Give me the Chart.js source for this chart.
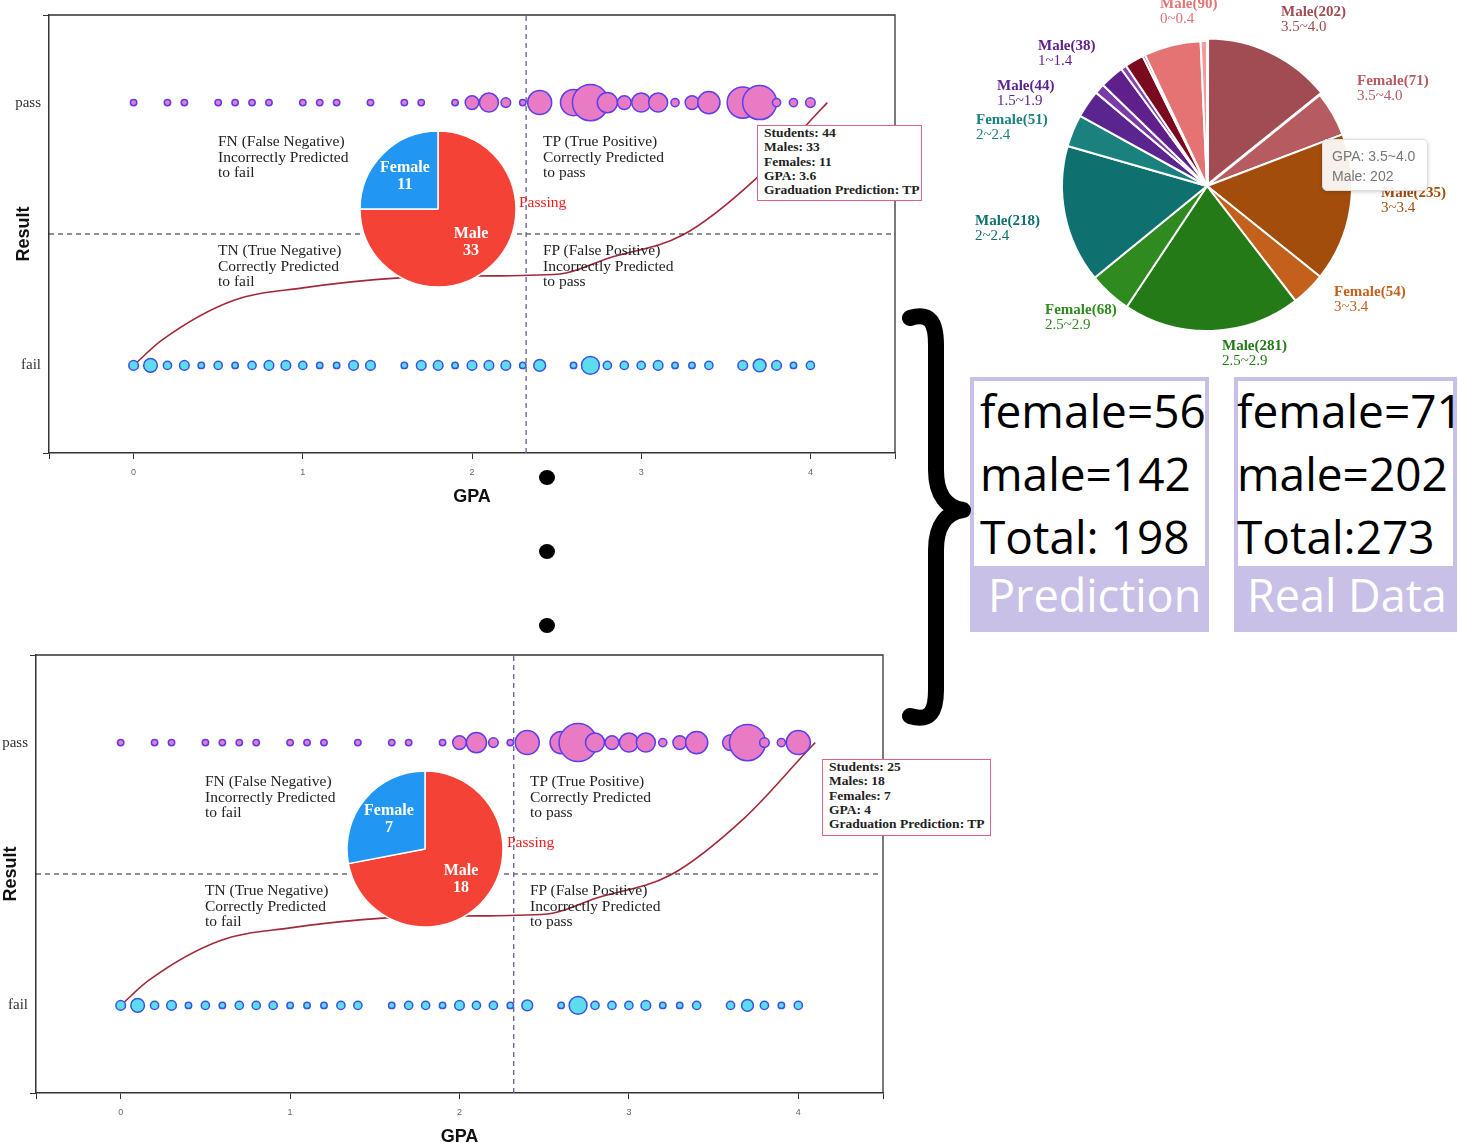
<!DOCTYPE html>
<html>
<head>
<meta charset="utf-8">
<script src="https://cdn.jsdelivr.net/npm/chart.js@4.4.1/dist/chart.umd.min.js"></script>
<style>
html, body { margin: 0; padding: 0; background: #fff; }
#page { position: relative; width: 1458px; height: 1143px; overflow: hidden; }
canvas { position: absolute; }
.q { position: absolute; z-index: 2; font-family: "Liberation Serif", "Times New Roman", serif; font-size: 15.5px; line-height: 15.6px; color: #222; white-space: nowrap; }
.passing { color: #f01c1c; }
.tip { position: absolute; z-index: 5; box-sizing: border-box; border: 1.5px solid #e0608a; background: #fff; font-family: "Liberation Serif", serif; font-weight: bold; font-size: 13.5px; line-height: 14.3px; color: #222; padding: 0 0 0 6px; white-space: nowrap; }
.dot { position: absolute; width: 16px; height: 15px; border-radius: 50%; background: #000; }
.plab { position: absolute; z-index: 2; font-family: "Liberation Serif", serif; font-size: 15px; line-height: 15px; white-space: nowrap; }
.plab b { display: block; }
.box { position: absolute; background: #c8c0e6; }
.box .in { position: absolute; left: 4px; top: 4px; background: #fff; }
.box .t { position: absolute; top: 2px; font-family: "Open Sans", sans-serif; font-size: 46px; line-height: 63px; color: #000; white-space: nowrap; }
.box .cap { position: absolute; top: 186px; font-family: "Open Sans", sans-serif; font-size: 45px; line-height: 64px; color: #fff; white-space: nowrap; }
.ptip { position: absolute; z-index: 5; left: 1322px; top: 139px; width: 106px; height: 52px; box-sizing: border-box; background: rgba(255,255,255,0.92); border: 1px solid #ddd; border-radius: 5px; box-shadow: 0 1px 4px rgba(0,0,0,0.18); font-family: "Liberation Sans", Arial, sans-serif; font-size: 14px; line-height: 20px; color: #777; padding: 6px 0 0 9px; }
</style>
</head>
<body>
<div id="page">
  <canvas id="topChart" width="903" height="512" style="left:0;top:0;z-index:1"></canvas>
  <canvas id="bottomChart" width="891" height="512" style="left:0;top:640px;z-index:1"></canvas>
  <canvas id="topPie" width="170" height="170" style="left:353px;top:124px;z-index:3"></canvas>
  <canvas id="bottomPie" width="170" height="170" style="left:340px;top:764px;z-index:3"></canvas>
  <canvas id="bigPie" width="320" height="320" style="left:1047px;top:26px;z-index:1"></canvas>

  <div class="q" style="left:218px;top:133px">FN (False Negative)<br>Incorrectly Predicted<br>to fail</div>
  <div class="q" style="left:543px;top:133px">TP (True Positive)<br>Correctly Predicted<br>to pass</div>
  <div class="q" style="left:218px;top:242px">TN (True Negative)<br>Correctly Predicted<br>to fail</div>
  <div class="q" style="left:543px;top:242px">FP (False Positive)<br>Incorrectly Predicted<br>to pass</div>
  <div class="q passing" style="left:519px;top:194px">Passing</div>
  <div class="tip" style="left:757px;top:125px;width:165px;height:76px">Students: 44<br>Males: 33<br>Females: 11<br>GPA: 3.6<br>Graduation Prediction: TP</div>

  <div class="q" style="left:205px;top:773px">FN (False Negative)<br>Incorrectly Predicted<br>to fail</div>
  <div class="q" style="left:530px;top:773px">TP (True Positive)<br>Correctly Predicted<br>to pass</div>
  <div class="q" style="left:205px;top:882px">TN (True Negative)<br>Correctly Predicted<br>to fail</div>
  <div class="q" style="left:530px;top:882px">FP (False Positive)<br>Incorrectly Predicted<br>to pass</div>
  <div class="q passing" style="left:507px;top:834px">Passing</div>
  <div class="tip" style="left:822px;top:759px;width:169px;height:77px">Students: 25<br>Males: 18<br>Females: 7<br>GPA: 4<br>Graduation Prediction: TP</div>

  <div class="dot" style="left:539px;top:470px"></div>
  <div class="dot" style="left:539px;top:544px"></div>
  <div class="dot" style="left:539px;top:618px"></div>

  <svg width="1458" height="1143" style="position:absolute;left:0;top:0;z-index:2">
    <path d="M 910 318 C 930 312 936 322 936 345 L 936 470 C 936 496 948 508 963 510 C 948 512 936 524 936 550 L 936 690 C 936 712 930 722 910 716" fill="none" stroke="#000" stroke-width="16" stroke-linecap="round" stroke-linejoin="round"/>
  </svg>

  <div class="box" style="left:970px;top:377px;width:239px;height:255px">
    <div class="in" style="width:231px;height:185px"></div>
    <div class="t" style="left:10px">female=56<br>male=142<br>Total: 198</div>
    <div class="cap" style="left:18px">Prediction</div>
  </div>
  <div class="box" style="left:1234px;top:377px;width:223px;height:255px">
    <div class="in" style="width:215px;height:185px"></div>
    <div class="t" style="left:3px">female=71<br>male=202<br>Total:273</div>
    <div class="cap" style="left:13px">Real Data</div>
  </div>

  <div class="ptip">GPA: 3.5~4.0<br>Male: 202</div>
  <div id="pieLabels"></div>
</div>

<script>
// GPA values where a bubble sits on each row
const passGpa = [0, 0.2, 0.3, 0.5, 0.6, 0.7, 0.8, 1.0, 1.1, 1.2, 1.4, 1.6, 1.7, 1.9, 2.0, 2.1, 2.2, 2.3, 2.4,
                 2.6, 2.7, 2.8, 2.9, 3.0, 3.1, 3.2, 3.3, 3.4, 3.6, 3.7, 3.8, 3.9, 4.0]
const failGpa = [0, 0.1, 0.2, 0.3, 0.4, 0.5, 0.6, 0.7, 0.8, 0.9, 1.0, 1.1, 1.2, 1.3, 1.4, 1.6, 1.7, 1.8, 1.9,
                 2.0, 2.1, 2.2, 2.3, 2.4, 2.6, 2.7, 2.8, 2.9, 3.0, 3.1, 3.2, 3.3, 3.4, 3.6, 3.7, 3.8, 3.9, 4.0]

// students per bubble
const topPass = [1, 1, 1, 1, 1, 1, 1, 1, 1, 1, 1, 1, 1, 1, 7, 15, 3, 1, 25,
                 30, 60, 17, 7, 15, 15, 2, 7, 21, 44, 53, 2, 2, 3]
const topFail = [3, 7, 2, 3, 1, 2, 1, 2, 3, 3, 2, 1, 1, 3, 3, 1, 3, 3, 1,
                 3, 3, 3, 1, 5, 1, 13, 2, 2, 2, 3, 1, 1, 2, 3, 6, 3, 1, 2]
const bottomPass = [1, 1, 1, 1, 1, 1, 1, 1, 1, 1, 1, 1, 1, 1, 7, 17, 3, 1, 25,
                    21, 67, 15, 7, 15, 15, 2, 7, 21, 10, 60, 3, 2, 25]
const bottomFail = [3, 7, 2, 3, 1, 2, 1, 2, 2, 2, 1, 1, 1, 2, 2, 1, 2, 2, 1,
                    3, 2, 2, 1, 4, 1, 13, 2, 2, 2, 3, 1, 1, 2, 2, 5, 2, 1, 2]

// prediction curve (result vs GPA)
const curveGpa = [0, 0.165, 0.585, 1.0, 1.57, 2.0, 2.52, 2.81, 3.245, 3.68, 4.05, 4.1]
const curveY = [0, 0.095, 0.246, 0.295, 0.333, 0.34, 0.348, 0.409, 0.496, 0.712, 0.966, 1.0]
const cutGpa = 2.32

const pieLabels = ['Male', 'Female']
const topPieCounts = [33, 11]
const bottomPieCounts = [18, 7]

// real data pie
const gpaRanges = ['3.5~4.0', '3~3.4', '2.5~2.9', '2~2.4', '1.5~1.9', '1~1.4', '0.5~0.9', '0~0.4']
const realMale = [202, 235, 281, 218, 44, 38, 30, 90]
const realFemale = [71, 54, 68, 51, 16, 9, 4, 10]

const maleColors = ['#a04c52', '#a34d0c', '#237a17', '#0e706f', '#5b2590', '#60208c', '#7b0a1f', '#e57373']
const femaleColors = ['#b65b60', '#c2601c', '#2f8a1f', '#1b817f', '#7a3aa8', '#8444b2', '#a0203a', '#f49a9a']

function radius(n){
    return 1 + 2.2*Math.sqrt(n)
}

const yMin = -1/3, yMax = 4/3

const framePlugin = {
    id: 'frame',
    afterDraw(chart){
        const {ctx, chartArea: a} = chart
        ctx.save()
        ctx.strokeStyle = '#333'
        ctx.lineWidth = 1.3
        ctx.beginPath()
        ctx.moveTo(a.left, a.top)
        ctx.lineTo(a.right, a.top)
        ctx.lineTo(a.right, a.bottom)
        ctx.stroke()
        ctx.restore()
    }
}

function scatterChart(id, passCounts, failCounts, axisWidth, titlePad){
    return new Chart(document.getElementById(id), {
        type: 'bubble',
        data: {datasets: [
            {type: 'line', data: [{x: cutGpa, y: yMin}, {x: cutGpa, y: yMax}],
             borderColor: '#6b6b9e', borderWidth: 1.4, borderDash: [5, 4], pointRadius: 0, fill: false},
            {type: 'line', data: [{x: -0.5, y: 0.5}, {x: 4.48, y: 0.5}],
             borderColor: '#222', borderWidth: 1.2, borderDash: [5, 4], pointRadius: 0, fill: false},
            {label: 'fail', data: failGpa.map((g, i) => ({x: g, y: 0, r: radius(failCounts[i])})),
             backgroundColor: '#5cdcec', borderColor: '#3b52e0', borderWidth: 1.5},
            {label: 'pass', data: passGpa.map((g, i) => ({x: g, y: 1, r: radius(passCounts[i])})),
             backgroundColor: '#e87bc3', borderColor: '#5a3ef0', borderWidth: 1.5},
            {type: 'line', data: curveGpa.map((g, i) => ({x: g, y: curveY[i]})),
             borderColor: '#a3283a', borderWidth: 1.6, pointRadius: 0, fill: false,
             cubicInterpolationMode: 'monotone'}
        ]},
        options: {
            responsive: false,
            animation: false,
            events: [],
            layout: {autoPadding: false, padding: {top: 15, right: 2, left: 0, bottom: 0}},
            plugins: {legend: {display: false}, tooltip: {enabled: false}},
            scales: {
                x: {
                    type: 'linear', min: -0.5, max: 4.5,
                    afterBuildTicks: s => { s.ticks = [-0.5, 0, 1, 2, 3, 4, 4.5].map(v => ({value: v})) },
                    afterFit: s => { s.height = 59 },
                    ticks: {callback: v => Number.isInteger(v) ? String(v) : '',
                            font: {family: 'Liberation Sans', size: 9}, color: '#666',
                            padding: 8, maxRotation: 0, autoSkip: false},
                    grid: {drawOnChartArea: false, tickLength: 6, color: '#333'},
                    border: {color: '#333', width: 1.5},
                    title: {display: true, text: 'GPA', color: '#111',
                            font: {family: 'Liberation Sans', size: 18, weight: 'bold', lineHeight: 1},
                            padding: {top: 0, bottom: 6}}
                },
                y: {
                    type: 'linear', min: yMin, max: yMax,
                    afterBuildTicks: s => { s.ticks = [yMin, 0, 1, yMax].map(v => ({value: v})) },
                    afterFit: s => { s.width = axisWidth },
                    ticks: {callback: v => v === 0 ? 'fail' : (v === 1 ? 'pass' : ''),
                            font: {family: 'Liberation Serif', size: 15}, color: '#333', padding: 2},
                    grid: {drawOnChartArea: false, tickLength: 6,
                           tickColor: c => (c.tick && Number.isInteger(c.tick.value)) ? 'rgba(0,0,0,0)' : '#333'},
                    border: {color: '#333', width: 1.5},
                    title: {display: true, text: 'Result', color: '#111',
                            font: {family: 'Liberation Sans', size: 18, weight: 'bold', lineHeight: 1},
                            padding: {top: titlePad, bottom: 0}}
                }
            }
        },
        plugins: [framePlugin]
    })
}

scatterChart('topChart', topPass, topFail, 49, 15)
scatterChart('bottomChart', bottomPass, bottomFail, 36, 2)

const sliceText = {
    id: 'sliceText',
    afterDatasetsDraw(chart){
        const ctx = chart.ctx
        const values = chart.data.datasets[0].data
        chart.getDatasetMeta(0).data.forEach((arc, i) => {
            const p = arc.getProps(['x', 'y', 'startAngle', 'endAngle', 'outerRadius'])
            const a = (p.startAngle + p.endAngle)/2
            const d = p.outerRadius*0.6
            const cx = p.x + Math.cos(a)*d, cy = p.y + Math.sin(a)*d
            ctx.save()
            ctx.fillStyle = '#fff'
            ctx.font = 'bold 16px "Liberation Serif"'
            ctx.textAlign = 'center'
            ctx.textBaseline = 'middle'
            ctx.fillText(chart.data.labels[i], cx, cy - 8)
            ctx.fillText(String(values[i]), cx, cy + 9)
            ctx.restore()
        })
    }
}

function smallPie(id, counts){
    return new Chart(document.getElementById(id), {
        type: 'pie',
        data: {labels: pieLabels, datasets: [{data: counts, backgroundColor: ['#f44336', '#2196f3'],
               borderColor: '#fff', borderWidth: 1.5, radius: 78}]},
        options: {responsive: false, animation: false, events: [],
                  plugins: {legend: {display: false}, tooltip: {enabled: false}}},
        plugins: [sliceText]
    })
}
smallPie('topPie', topPieCounts)
smallPie('bottomPie', bottomPieCounts)

// interleave male / female per GPA range, clockwise from the top
const sliceCounts = [], sliceColors = [], sliceNames = [], sliceRanges = []
gpaRanges.forEach((r, i) => {
    sliceCounts.push(realMale[i], realFemale[i])
    sliceColors.push(maleColors[i], femaleColors[i])
    sliceNames.push('Male', 'Female')
    sliceRanges.push(r, r)
})

new Chart(document.getElementById('bigPie'), {
    type: 'pie',
    data: {labels: sliceNames, datasets: [{data: sliceCounts, backgroundColor: sliceColors,
           borderColor: '#fff', borderWidth: 2, radius: 145,
           offset: sliceCounts.map((v, i) => i === 0 ? 9 : 0)}]},
    options: {responsive: false, animation: false, events: [],
              plugins: {legend: {display: false}, tooltip: {enabled: false}}}
})

// outside labels of the real data pie (slice index -> left, top)
const labelPos = {0: [1281, 4], 1: [1357, 73], 2: [1381, 185], 3: [1334, 284], 4: [1222, 338],
                  5: [1045, 302], 6: [975, 213], 7: [976, 112], 8: [997, 78], 10: [1038, 38], 14: [1160, -4]}
const holder = document.getElementById('pieLabels')
Object.keys(labelPos).forEach(k => {
    const i = +k
    const el = document.createElement('div')
    el.className = 'plab'
    el.style.left = labelPos[k][0] + 'px'
    el.style.top = labelPos[k][1] + 'px'
    el.style.color = sliceColors[i]
    el.innerHTML = '<b>' + sliceNames[i] + '(' + sliceCounts[i] + ')</b>' + sliceRanges[i]
    holder.appendChild(el)
})
</script>
</body>
</html>
